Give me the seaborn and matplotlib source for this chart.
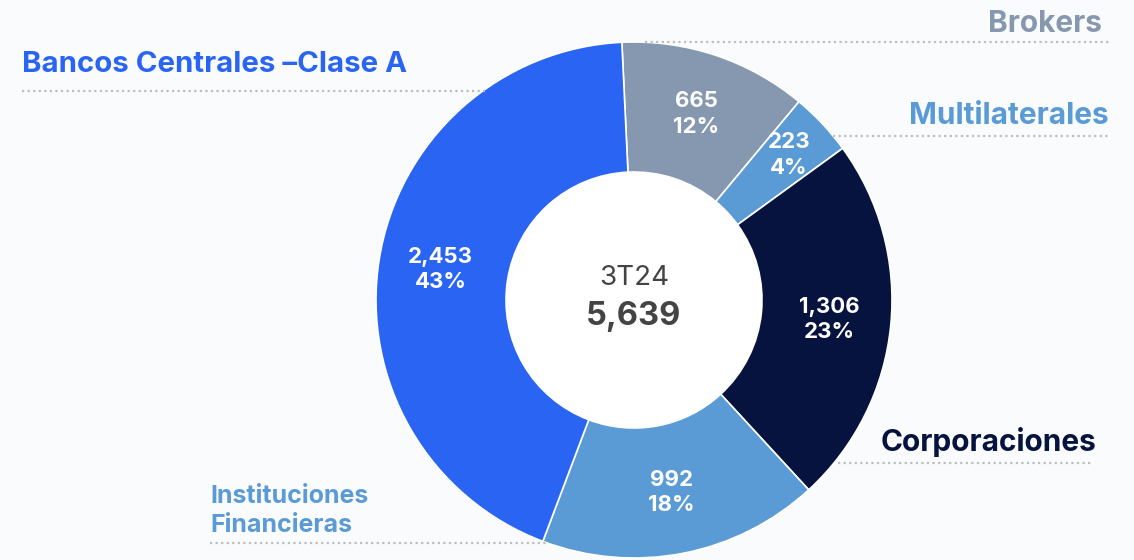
import matplotlib
matplotlib.use("Agg")
import matplotlib.pyplot as plt
import seaborn as sns
import numpy as np

categories = ["Brokers", "Multilaterales", "Corporaciones", "Instituciones\nFinancieras", "Bancos Centrales \u2013Clase A"]
values = [665, 223, 1306, 992, 2453]
pct_labels = ["12%", "4%", "23%", "18%", "43%"]
value_labels = ["665", "223", "1,306", "992", "2,453"]
period_label = "3T24"
total_label = "5,639"

colors = ["#8698B0", "#5B9BD5", "#06133F", "#5B9BD5", "#2964F2"]
label_colors = ["#8698B0", "#5B9BD5", "#06133F", "#5B9BD5", "#2964F2"]

sns.set_theme(style="white")
plt.rcParams["font.family"] = ["Inter", "DejaVu Sans"]

W, H = 1134, 560
fig = plt.figure(figsize=(W / 100, H / 100), dpi=100)
bg = "#FAFBFD"
fig.patch.set_facecolor(bg)
ax = fig.add_axes([0, 0, 1, 1])
ax.set_facecolor(bg)

cx, cy = 634, 560 - 300
R = 258
Rin = 128
wedges, _ = ax.pie(values, colors=colors, startangle=92.7, counterclock=False,
                   radius=R, center=(cx, cy), frame=True,
                   wedgeprops=dict(width=R - Rin, edgecolor="white", linewidth=1.2))
ax.add_patch(plt.Circle((cx, cy), Rin, color="white", zorder=0.5))
ax.set_xlim(0, W)
ax.set_ylim(0, H)
ax.set_aspect("equal")
ax.axis("off")

label_r = [196, 212, 196, 196, 196]
for w, v, p, r in zip(wedges, value_labels, pct_labels, label_r):
    ang = np.deg2rad((w.theta1 + w.theta2) / 2)
    x = cx + r * np.cos(ang)
    y = cy + r * np.sin(ang)
    ax.text(x, y, f"{v}\n{p}", ha="center", va="center", color="white",
            fontsize=16, fontweight="bold", linespacing=1.35)

ax.text(cx, 560 - 278, period_label, ha="center", va="center", fontsize=20, color="#444444")
ax.text(cx, 560 - 317, total_label, ha="center", va="center", fontsize=23.5, fontweight="bold", color="#444444")

# category labels with dotted underline
dot = dict(color="#BDBDBD", linestyle=(0, (1, 1.5)), linewidth=1.6)
# Brokers
ax.text(1102, 560 - 24, categories[0], ha="right", va="center", fontsize=21.5, fontweight="bold", color=label_colors[0])
ax.plot([645, 1110], [560 - 42, 560 - 42], **dot)
# Multilaterales
ax.text(1109, 560 - 116, categories[1], ha="right", va="center", fontsize=21.5, fontweight="bold", color=label_colors[1])
ax.plot([833, 1110], [560 - 136, 560 - 136], **dot)
# Corporaciones
ax.text(881, 560 - 442, categories[2], ha="left", va="center", fontsize=21.5, fontweight="bold", color=label_colors[2])
ax.plot([838, 1093], [560 - 463, 560 - 463], **dot)
# Instituciones Financieras
ax.text(210, 560 - 511, categories[3], ha="left", va="center", fontsize=18, fontweight="bold", color=label_colors[3], linespacing=1.3)
ax.plot([210, 548], [560 - 543, 560 - 543], **dot)
# Bancos Centrales
ax.text(22, 560 - 65, categories[4], ha="left", va="center", fontsize=21.2, fontweight="bold", color=label_colors[4])
ax.plot([22, 485], [560 - 91, 560 - 91], **dot)

fig.savefig("out.png", dpi=100, facecolor=bg)
